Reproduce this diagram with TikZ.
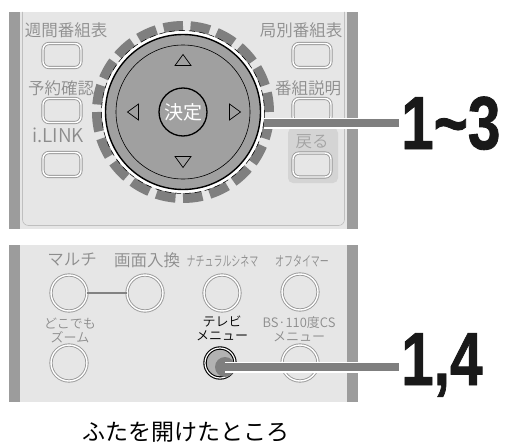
\documentclass[tikz,border=0pt]{standalone}
\usepackage{fontspec}
\usepackage{graphicx}
\newfontfamily\jpfont{Noto Sans CJK JP}[UprightFont={* DemiLight}]
\newfontfamily\capfont{Noto Sans CJK JP}
\newfontface\numfont{Liberation Sans Bold}[FakeBold=1.2]
\usetikzlibrary{calc}

\definecolor{panelbg}{HTML}{E6E6E6}
\definecolor{bandgray}{HTML}{9C9C9C}
\definecolor{labelgray}{HTML}{8C8C8C}
\definecolor{btngray}{HTML}{999999}
\definecolor{dialgray}{HTML}{A0A0A0}
\definecolor{ringgray}{HTML}{7F7F7F}
\definecolor{leadgray}{HTML}{7F7F7F}
\definecolor{backbg}{HTML}{D4D4D4}

\tikzset{
  plabel/.style={font=\jpfont\fontsize{16.5}{18}\selectfont, text=labelgray, inner sep=0pt},
  kanalabel/.style={font=\jpfont\fontsize{14}{16}\selectfont, text=labelgray, inner sep=0pt},
  slabel/.style={font=\jpfont\fontsize{13}{14}\selectfont, text=labelgray, align=center, inner sep=0pt},
  sqbtn/.style={draw=btngray, double=white, double distance=1.4pt, line width=0.9pt, fill=panelbg,
    rounded corners=6pt, minimum width=38pt, minimum height=24pt, inner sep=0pt},
  rdbtn/.style={circle, draw=btngray, double=white, double distance=1.4pt, line width=0.9pt,
    fill=panelbg, minimum size=36pt, inner sep=0pt},
  tri/.style={draw=black, line width=0.7pt, fill=dialgray},
  leader/.style={line width=8pt, draw=leadgray, preaction={draw=white, line width=11pt}},
  steplabel/.style={font=\numfont\fontsize{75}{75}\selectfont, text=black!90,
    inner sep=2pt, anchor=base west},
}

\begin{document}
\begin{tikzpicture}[x=1pt, y=-1pt]
  \useasboundingbox (0,0) rectangle (511,444);

  % Top panel
  \fill[panelbg] (9,12) rectangle (358,229);
  \fill[bandgray] (9,12) rectangle (20,229);
  \fill[bandgray] (347,12) rectangle (358,229);
  \draw[black!25, line width=0.6pt, rounded corners=6pt] (22.5,12) -- (22.5,225.5) -- (344.5,225.5) -- (344.5,12);

  % left column
  \node[plabel] (weekly) at (66,30) {週間番組表};
  \node[sqbtn] (weeklybtn) at (62,55.5) {};
  \node[plabel] (reserve) at (61,88) {予約確認};
  \node[sqbtn] (reservebtn) at (62,110.5) {};
  \node[plabel, font=\jpfont\fontsize{19}{20}\selectfont] (ilink) at (58,135) {i.LINK};
  \node[sqbtn] (ilinkbtn) at (62,164.5) {};

  % right column
  \node[plabel] (station) at (301,30) {局別番組表};
  \node[sqbtn] (stationbtn) at (312,55.5) {};
  \node[plabel] (detail) at (308,88) {番組説明};
  \node[sqbtn] (detailbtn) at (312,110.5) {};
  \fill[backbg, rounded corners=5pt] (288,128) rectangle (338,183);
  \node[plabel, text=labelgray!80] (back) at (312,142) {戻る};
  \node[sqbtn] (backbtn) at (312,165) {};

  % dial
  \coordinate (dc) at (183,112);
  \node[circle, minimum size=172pt, draw=ringgray, line width=10pt, dash pattern=on 19.5pt off 7.52pt] (ring) at (dc) {};
  \node[circle, fill=white, minimum size=162pt, inner sep=0pt, outer sep=0pt] (dial) at (dc) {};
  \draw[black, line width=0.5pt, dash pattern=on 6pt off 4pt] (dc) circle (81.5);
  \node[circle, draw=black, line width=1.4pt, fill=dialgray, minimum size=155pt] (dialdisk) at (dc) {};
  \node[circle, draw=black, line width=0.6pt, minimum size=134pt] (dialinner) at (dc) {};
  \node[circle, draw=black, line width=1.3pt, fill=dialgray, minimum size=48pt, inner sep=0pt,
    text=white, font=\capfont\fontsize{19}{20}\selectfont] (enter) at (dc) {決定};
  \draw[tri, shift={(183,60)}] (0,-5.5) -- (8,5.5) -- (-8,5.5) -- cycle;
  \draw[tri, shift={(183,162)}] (0,5.5) -- (8,-5.5) -- (-8,-5.5) -- cycle;
  \draw[tri, shift={(133,112)}] (-5.5,0) -- (5.5,-8) -- (5.5,8) -- cycle;
  \draw[tri, shift={(235,112)}] (5.5,0) -- (-5.5,-8) -- (-5.5,8) -- cycle;

  \node[steplabel] (step13) at (399,149) {\scalebox{0.78}[1]{1\textasciitilde 3}};
  \draw[leader] (step13.west) -- (step13.west -| dial.east);

  % Bottom panel
  \fill[panelbg] (9,245) rectangle (358,402);
  \fill[bandgray] (9,245) rectangle (20,402);
  \fill[bandgray] (347,245) rectangle (358,402);

  \node[plabel] (multi) at (72,260) {マルチ};
  \node[plabel] (swap) at (147,260) {画面入換};
  \node[kanalabel] (cinema) at (222.5,261) {\scalebox{0.64}[1]{ナチュラルシネマ}};
  \node[kanalabel] (offtimer) at (302,261) {\scalebox{0.64}[1]{オフタイマー}};
  \node[rdbtn] (multibtn) at (69,293) {};
  \node[rdbtn] (swapbtn) at (145,293) {};
  \draw[btngray!85!black, line width=1.6pt] (multibtn) -- (swapbtn);
  \node[rdbtn] (cinemabtn) at (222,293) {};
  \node[rdbtn] (offtimerbtn) at (300,292) {};

  \node[slabel] (zoomlbl) at (70,330) {どこでも\\ズーム};
  \node[slabel, text=black] (tvlbl) at (222,328) {テレビ\\メニュー};
  \node[slabel] (bslbl) at (299,329) {BS·110度CS\\メニュー};
  \node[rdbtn] (zoombtn) at (69,363) {};
  \node[rdbtn] (bsbtn) at (300,363) {};
  \node[circle, draw=black, double=white, double distance=1.2pt, line width=1.1pt, fill=black!30,
    minimum size=30pt, inner sep=0pt] (tvbtn) at (220,363) {};
  \node[circle, fill=leadgray, minimum size=20pt, inner sep=0pt] (tvdot) at (225,367) {};

  \node[steplabel] (step14) at (399,385) {\scalebox{0.78}[1]{1,4}};
  \draw[leader] (tvdot.center) -- (tvdot -| step14.west);

  \node[font=\capfont\fontsize{23}{24}\selectfont] (caption) at (186,432) {ふたを開けたところ};
\end{tikzpicture}
\end{document}
